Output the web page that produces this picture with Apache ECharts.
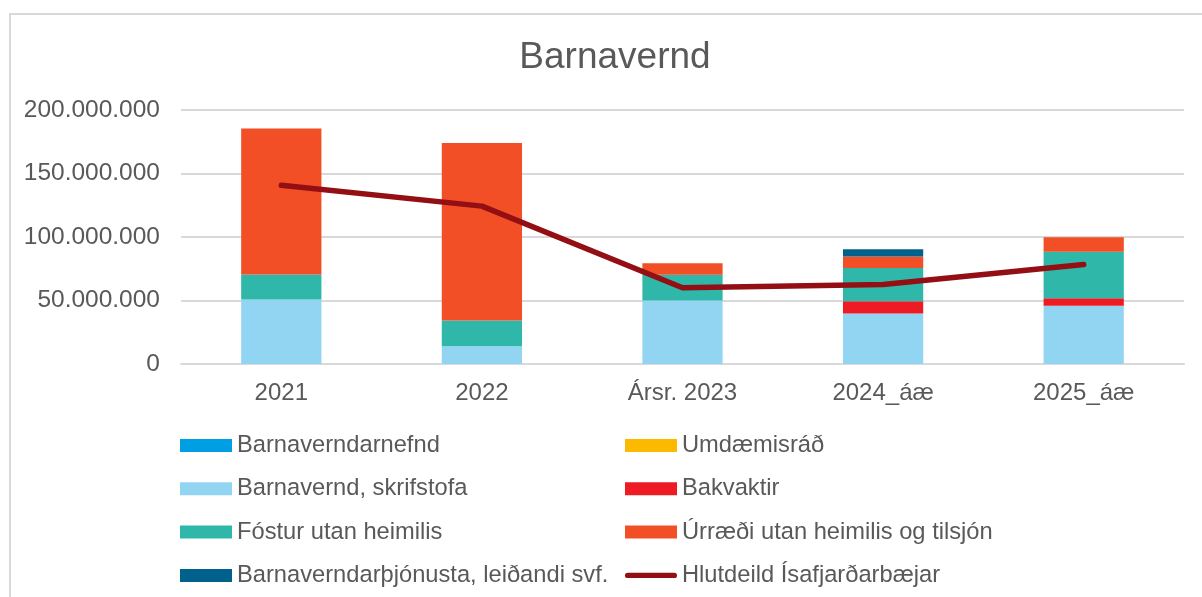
<!DOCTYPE html>
<html>
<head>
<meta charset="utf-8">
<script src="https://cdn.jsdelivr.net/npm/echarts@6/dist/echarts.min.js"></script>
<style>
    html, body { margin: 0; padding: 0; background: #fff; }
    #main { width: 1202px; height: 597px; }
</style>
</head>
<body>
<div id="main"></div>
<script>
    // gögn lesin af myndinni (kr.)
    var years = ['2021', '2022', 'Ársr. 2023', '2024_áæ', '2025_áæ'];
    var barnaverndarnefnd = [0, 0, 0, 0, 0];
    var umdaemisrad = [0, 0, 0, 0, 0];
    var skrifstofa = [50800000, 14000000, 50000000, 39800000, 45800000];
    var bakvaktir = [0, 0, 0, 9700000, 6000000];
    var fostur = [19700000, 20200000, 20200000, 26000000, 36500000];
    var urraedi = [115000000, 139900000, 9100000, 9200000, 11500000];
    var thjonusta = [0, 0, 0, 5700000, 0];
    var hlutdeild = [140800000, 124300000, 60000000, 62600000, 78300000];
    var yTicks = [0, 50000000, 100000000, 150000000, 200000000];

    var txt = '#595959';
    var font = '"Liberation Sans", Arial, sans-serif';
    // lína með rúnnuðum endum í skýringunni
    var lineIcon = 'path://M0,0L0.01,0M0,13L0.01,13M2.6,3.9L49.4,3.9A2.6,2.6,0,0,1,49.4,9.1L2.6,9.1A2.6,2.6,0,0,1,2.6,3.9Z M52,0L52.01,0';

    function fmt(v) {
        return String(v).replace(/\B(?=(\d{3})+(?!\d))/g, '.');
    }

    function barSeries(name, data, color) {
        return {
            name: name,
            type: 'bar',
            stack: 'total',
            barWidth: '40%',
            itemStyle: { color: color },
            data: data
        };
    }

    var legendBase = {
        orient: 'vertical',
        top: 428,
        itemWidth: 52,
        itemHeight: 13,
        itemGap: 18.3,
        icon: 'rect',
        textStyle: { color: txt, fontSize: 23.7, lineHeight: 25, fontFamily: font }
    };

    var myChart = echarts.init(document.getElementById('main'));
    var option = {
        animation: false,
        textStyle: { fontFamily: font },
        graphic: [
            {
                type: 'rect',
                shape: { x: 10, y: 14, width: 1300, height: 700 },
                style: { fill: 'none', stroke: '#D9D9D9', lineWidth: 2 },
                silent: true
            }
        ],
        title: {
            text: 'Barnavernd',
            left: 610,
            textAlign: 'center',
            top: 34,
            textStyle: { color: txt, fontSize: 37, fontWeight: 'normal', fontFamily: font }
        },
        legend: [
            Object.assign({}, legendBase, {
                left: 175,
                data: ['Barnaverndarnefnd', 'Barnavernd, skrifstofa', 'Fóstur utan heimilis', 'Barnaverndarþjónusta, leiðandi svf.']
            }),
            Object.assign({}, legendBase, {
                left: 620,
                data: ['Umdæmisráð', 'Bakvaktir', 'Úrræði utan heimilis og tilsjón',
                    { name: 'Hlutdeild Ísafjarðarbæjar', icon: lineIcon }]
            })
        ],
        grid: {
            left: 181,
            right: 18,
            top: 110,
            bottom: 233
        },
        xAxis: {
            type: 'category',
            data: years,
            axisTick: { show: false },
            axisLine: { lineStyle: { color: '#D9D9D9', width: 2 } },
            axisLabel: { color: txt, fontSize: 24, margin: 17, fontFamily: font }
        },
        yAxis: {
            type: 'value',
            min: yTicks[0],
            max: yTicks[yTicks.length - 1],
            interval: yTicks[1] - yTicks[0],
            axisLine: { show: false },
            axisTick: { show: false },
            splitLine: { lineStyle: { color: '#D9D9D9', width: 2 } },
            axisLabel: { color: txt, fontSize: 24.5, margin: 21, fontFamily: font, formatter: fmt }
        },
        series: [
            barSeries('Barnaverndarnefnd', barnaverndarnefnd, '#009FE3'),
            barSeries('Umdæmisráð', umdaemisrad, '#FBBA00'),
            barSeries('Barnavernd, skrifstofa', skrifstofa, '#92D5F3'),
            barSeries('Bakvaktir', bakvaktir, '#ED1C24'),
            barSeries('Fóstur utan heimilis', fostur, '#2FB8AA'),
            barSeries('Úrræði utan heimilis og tilsjón', urraedi, '#F24F26'),
            barSeries('Barnaverndarþjónusta, leiðandi svf.', thjonusta, '#00628C'),
            {
                name: 'Hlutdeild Ísafjarðarbæjar',
                type: 'line',
                symbol: 'none',
                z: 5,
                itemStyle: { color: '#930F14' },
                lineStyle: { color: '#930F14', width: 5.5, cap: 'round', join: 'round' },
                data: hlutdeild
            }
        ]
    };
    myChart.setOption(option);
</script>
</body>
</html>
